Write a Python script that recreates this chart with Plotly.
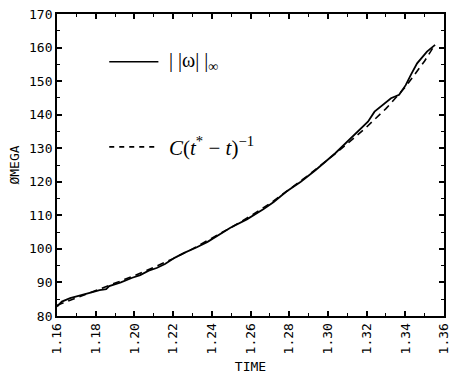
import plotly.graph_objects as go

# Measured ||omega||_inf (solid)
t_solid = [1.160, 1.1625, 1.1668, 1.1718, 1.1769, 1.182, 1.1854, 1.187, 1.1930, 1.1989,
           1.2030, 1.2074, 1.2115, 1.2158, 1.2210, 1.2260, 1.2320, 1.2378, 1.2440, 1.2496,
           1.2581, 1.2666, 1.2720, 1.2784, 1.2860, 1.2937, 1.3038, 1.3080, 1.3123, 1.3207,
           1.3241, 1.3275, 1.3326, 1.3368, 1.3402, 1.3430, 1.3461, 1.3512, 1.3554]
v_solid = [82.8, 84.3, 85.3, 86.0, 86.9, 87.7, 88.0, 88.9, 90.0, 91.4,
           92.2, 93.5, 94.3, 95.5, 97.4, 98.9, 100.4, 102.1, 104.3, 106.3,
           108.8, 111.8, 114.0, 117.0, 120.0, 123.5, 128.5, 130.9, 133.4, 137.9,
           140.9, 142.4, 144.9, 145.9, 148.8, 152.0, 155.3, 158.8, 160.8]

# Fit C (t* - t)^-1 (dashed)
t_fit = [1.16, 1.17, 1.18, 1.19, 1.20, 1.21, 1.22, 1.23, 1.24, 1.25, 1.26, 1.27,
         1.28, 1.29, 1.30, 1.31, 1.32, 1.33, 1.34, 1.35, 1.355]
v_fit = [83.2, 85.4, 87.5, 89.6, 92.0, 94.5, 97.1, 100.0, 103.1, 106.4, 109.8, 113.5,
         117.7, 122.0, 126.6, 131.3, 136.3, 141.8, 148.2, 156.0, 160.6]

x_range = [1.16, 1.36]
y_range = [80, 170]
x_title = "TIME"
y_title = "ØMEGA"
label_solid = "| |ω| |<sub>∞</sub>"
label_fit = "<i>C</i>(<i>t</i><sup>*</sup> − <i>t</i>)<sup>−1</sup>"

fig = go.Figure()
fig.add_trace(go.Scatter(x=t_fit, y=v_fit, mode="lines",
                         line=dict(color="black", width=1.6, dash="7px,5px"),
                         showlegend=False))
fig.add_trace(go.Scatter(x=t_solid, y=v_solid, mode="lines",
                         line=dict(color="black", width=1.8),
                         showlegend=False))

mono = "DejaVu Sans Mono"
axis_common = dict(showgrid=False, zeroline=False, showline=True, linecolor="black",
                   linewidth=1.8, mirror="allticks", ticks="inside", ticklen=5,
                   tickwidth=1.5, tickcolor="black",
                   tickfont=dict(family=mono, size=13, color="black"))

fig.update_xaxes(range=x_range, dtick=0.02, tick0=1.16, tickformat=".2f", tickangle=-90,
                 ticklabeloverflow="allow",
                 minor=dict(dtick=0.01, ticks="inside", ticklen=3, tickcolor="black", tickwidth=1.2),
                 title=dict(text=x_title, font=dict(family=mono, size=13, color="black"), standoff=8),
                 **axis_common)
fig.update_yaxes(range=y_range, dtick=10, tick0=80,
                 minor=dict(dtick=5, ticks="inside", ticklen=3, tickcolor="black", tickwidth=1.2),
                 title=dict(text=y_title, font=dict(family=mono, size=13, color="black"), standoff=6),
                 **axis_common)

# Legend drawn inside the plot
fig.add_shape(type="line", xref="paper", yref="paper", x0=0.135, x1=0.262, y0=0.842, y1=0.842,
              line=dict(color="black", width=1.6))
fig.add_shape(type="line", xref="paper", yref="paper", x0=0.135, x1=0.262, y0=0.560, y1=0.560,
              line=dict(color="black", width=1.6, dash="5px,5px"))
fig.add_annotation(xref="paper", yref="paper", x=0.285, y=0.842, text=label_solid,
                   showarrow=False, xanchor="left", yanchor="middle",
                   font=dict(family="Liberation Serif", size=20, color="black"))
fig.add_annotation(xref="paper", yref="paper", x=0.285, y=0.560, text=label_fit,
                   showarrow=False, xanchor="left", yanchor="middle",
                   font=dict(family="Liberation Serif", size=21, color="black"))

fig.update_layout(width=452, height=380, margin=dict(l=57, r=1, t=14, b=64),
                  paper_bgcolor="white", plot_bgcolor="white", showlegend=False)

fig.write_html("out.html")
